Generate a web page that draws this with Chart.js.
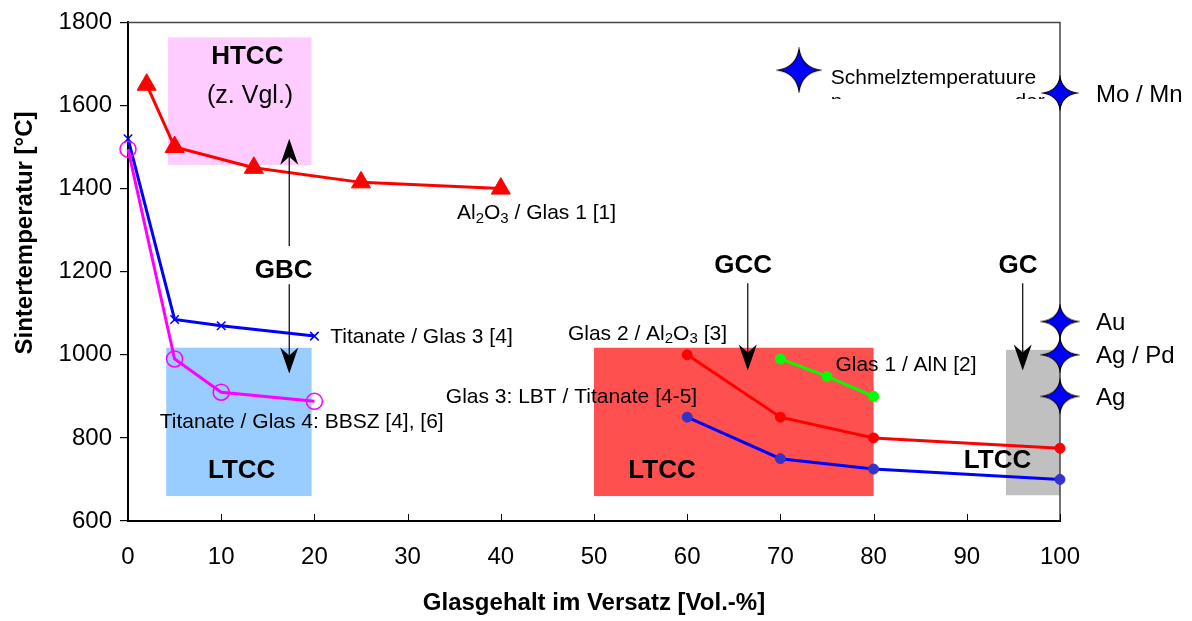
<!DOCTYPE html>
<html>
<head>
<meta charset="utf-8">
<script src="https://cdn.jsdelivr.net/npm/chart.js@4.4.1/dist/chart.umd.min.js"></script>
<style>
  html, body { margin: 0; padding: 0; background: #fff; }
</style>
</head>
<body>
<canvas id="myChart" width="1192" height="621"></canvas>
<script>
// ---- data ----
var xTicks = [0, 10, 20, 30, 40, 50, 60, 70, 80, 90, 100];
var yTicks = [600, 800, 1000, 1200, 1400, 1600, 1800];

var al2o3X = [2, 5, 13.5, 25, 40];
var al2o3Y = [1650, 1500, 1450, 1415, 1400];

var tit3X = [0, 5, 10, 20];
var tit3Y = [1520, 1085, 1070, 1045];

var tit4X = [0, 5, 10, 20];
var tit4Y = [1495, 990, 910, 888];

var glas2X = [60, 70, 80, 100];
var glas2Y = [1000, 850, 800, 775];

var glas3X = [60, 70, 80, 100];
var glas3Y = [850, 750, 725, 700];

var glas1X = [70, 75, 80];
var glas1Y = [990, 948, 900];

var metalNames = ["Mo / Mn", "Au", "Ag / Pd", "Ag"];
var metalX = [100, 100, 100, 100];
var metalY = [1630, 1080, 1000, 900];

var legendStarX = [72];
var legendStarY = [1685];

var FONT = "'Liberation Sans', Arial, sans-serif";

var toPoints = function (xs, ys) {
  var out = [];
  for (var i = 0; i < xs.length; i++) {
    out.push({ x: xs[i], y: ys[i] });
  }
  return out;
};

// four pointed star used as point style
var makeStar = function (w, h) {
  var c = document.createElement("canvas");
  c.width = w + 4;
  c.height = h + 4;
  var g = c.getContext("2d");
  var cx = c.width / 2, cy = c.height / 2;
  var a = w / 2, b = h / 2, k = 0.2;
  g.beginPath();
  g.moveTo(cx, cy - b);
  g.quadraticCurveTo(cx + a * k * 0.7, cy - b * k * 0.7, cx + a, cy);
  g.quadraticCurveTo(cx + a * k * 0.7, cy + b * k * 0.7, cx, cy + b);
  g.quadraticCurveTo(cx - a * k * 0.7, cy + b * k * 0.7, cx - a, cy);
  g.quadraticCurveTo(cx - a * k * 0.7, cy - b * k * 0.7, cx, cy - b);
  g.closePath();
  g.fillStyle = "#0000FF";
  g.fill();
  g.lineWidth = 1.2;
  g.strokeStyle = "#000";
  g.stroke();
  return c;
};

var metalStars = [makeStar(34, 32), makeStar(36, 32), makeStar(36, 32), makeStar(36, 32)];
var bigStar = makeStar(42, 42);

// ---- annotations (boxes, arrows, texts) in data units ----
var boxes = [
  { x0: 4.3, x1: 19.7, y0: 1457, y1: 1764, color: "#FFCCFF" },
  { x0: 4.1, x1: 19.7, y0: 660, y1: 1017, color: "#99CCFF" },
  { x0: 50, x1: 80, y0: 660, y1: 1017, color: "#FF5050" },
  { x0: 94.2, x1: 100, y0: 662, y1: 1012, color: "#C0C0C0" }
];

var arrows = [
  { x: 17.3, from: 1262, to: 1520 },
  { x: 17.3, from: 1170, to: 955 },
  { x: 66.5, from: 1172, to: 962 },
  { x: 96.0, from: 1172, to: 962 }
];

var labels = [
  { x: 12.8, y: 1716, parts: [["HTCC"]], size: 26, bold: true, align: "center" },
  { x: 13.1, y: 1622, parts: [["(z. Vgl.)"]], size: 25, align: "center" },
  { x: 16.7, y: 1201, parts: [["GBC"]], size: 26, bold: true, align: "center" },
  { x: 12.2, y: 720, parts: [["LTCC"]], size: 26, bold: true, align: "center" },
  { x: 57.3, y: 720, parts: [["LTCC"]], size: 26, bold: true, align: "center" },
  { x: 93.3, y: 744, parts: [["LTCC"]], size: 26, bold: true, align: "center" },
  { x: 66.0, y: 1213, parts: [["GCC"]], size: 26, bold: true, align: "center" },
  { x: 95.5, y: 1213, parts: [["GC"]], size: 26, bold: true, align: "center" },
  { x: 35.3, y: 1340, parts: [["Al"], ["2", 1], ["O"], ["3", 1], [" / Glas 1 [1]"]], size: 21 },
  { x: 21.7, y: 1043, parts: [["Titanate / Glas 3 [4]"]], size: 21 },
  { x: 3.4, y: 837, parts: [["Titanate / Glas 4: BBSZ [4], [6]"]], size: 21 },
  { x: 47.2, y: 1050, parts: [["Glas 2 / Al"], ["2", 1], ["O"], ["3", 1], [" [3]"]], size: 21 },
  { x: 34.1, y: 899, parts: [["Glas 3: LBT / Titanate [4-5]"]], size: 21 },
  { x: 75.9, y: 976, parts: [["Glas 1 / AlN [2]"]], size: 21 },
  { x: 75.4, y: 1666, parts: [["Schmelztemperatuure"]], size: 21 }
];

var setFont = function (ctx, size, bold) {
  ctx.font = (bold ? "bold " : "") + size + "px " + FONT;
};

var drawParts = function (ctx, item, px, py) {
  var total = 0, i;
  var widths = [];
  for (i = 0; i < item.parts.length; i++) {
    var p = item.parts[i];
    var s = p[1] ? Math.round(item.size * 0.7) : item.size;
    setFont(ctx, s, item.bold);
    widths.push(ctx.measureText(p[0]).width);
    total += widths[i];
  }
  var x = item.align === "center" ? px - total / 2 : px;
  ctx.textAlign = "left";
  ctx.textBaseline = "middle";
  ctx.fillStyle = "#000";
  for (i = 0; i < item.parts.length; i++) {
    var q = item.parts[i];
    var sz = q[1] ? Math.round(item.size * 0.7) : item.size;
    setFont(ctx, sz, item.bold);
    ctx.fillText(q[0], x, q[1] ? py + item.size * 0.25 : py);
    x += widths[i];
  }
};

var drawArrow = function (ctx, x, y0, y1) {
  var dir = y1 > y0 ? 1 : -1;
  ctx.strokeStyle = "#000";
  ctx.lineWidth = 1.2;
  ctx.beginPath();
  ctx.moveTo(x, y0);
  ctx.lineTo(x, y1 - dir * 18);
  ctx.stroke();
  ctx.fillStyle = "#000";
  ctx.beginPath();
  ctx.moveTo(x, y1);
  ctx.lineTo(x - 9, y1 - dir * 26);
  ctx.lineTo(x, y1 - dir * 18);
  ctx.lineTo(x + 9, y1 - dir * 26);
  ctx.closePath();
  ctx.fill();
};

var decorPlugin = {
  id: "decor",
  beforeDatasetsDraw: function (chart) {
    var ctx = chart.ctx, xs = chart.scales.x, ys = chart.scales.y, area = chart.chartArea;
    ctx.save();
    boxes.forEach(function (b) {
      var x1 = xs.getPixelForValue(b.x0), x2 = xs.getPixelForValue(b.x1);
      var y1 = ys.getPixelForValue(b.y1), y2 = ys.getPixelForValue(b.y0);
      ctx.fillStyle = b.color;
      ctx.fillRect(x1, y1, x2 - x1, y2 - y1);
    });
    // frame top / right
    ctx.strokeStyle = "#444";
    ctx.lineWidth = 1.5;
    ctx.beginPath();
    ctx.moveTo(area.left, area.top);
    ctx.lineTo(area.right, area.top);
    ctx.lineTo(area.right, area.bottom);
    ctx.stroke();
    // inward ticks on x axis
    ctx.strokeStyle = "#000";
    ctx.lineWidth = 1;
    xTicks.forEach(function (t) {
      if (t === 0) return;
      var px = Math.round(xs.getPixelForValue(t)) + 0.5;
      ctx.beginPath();
      ctx.moveTo(px, area.bottom);
      ctx.lineTo(px, area.bottom - 7);
      ctx.stroke();
    });
    ctx.restore();
  },
  afterDatasetsDraw: function (chart) {
    var ctx = chart.ctx, xs = chart.scales.x, ys = chart.scales.y;
    ctx.save();
    arrows.forEach(function (a) {
      drawArrow(ctx, xs.getPixelForValue(a.x), ys.getPixelForValue(a.from), ys.getPixelForValue(a.to));
    });
    labels.forEach(function (l) {
      drawParts(ctx, l, xs.getPixelForValue(l.x), ys.getPixelForValue(l.y));
    });
    // clipped second line of the melting temperature legend
    var lx = xs.getPixelForValue(75.4), ly = ys.getPixelForValue(1666) + 24;
    ctx.beginPath();
    ctx.rect(lx - 5, ly - 20, 240, 17);
    ctx.clip();
    setFont(ctx, 21, false);
    ctx.textBaseline = "middle";
    ctx.textAlign = "left";
    ctx.fillText("n", lx, ly);
    ctx.textAlign = "right";
    ctx.fillText("der", lx + 214, ly);
    ctx.restore();

    ctx.save();
    setFont(ctx, 24, false);
    ctx.textAlign = "left";
    ctx.textBaseline = "middle";
    ctx.fillStyle = "#000";
    for (var i = 0; i < metalNames.length; i++) {
      ctx.fillText(metalNames[i], xs.getPixelForValue(metalX[i]) + 36, ys.getPixelForValue(metalY[i]) + 2);
    }
    // y axis title
    ctx.translate(25, 233);
    ctx.rotate(-Math.PI / 2);
    setFont(ctx, 24, true);
    ctx.textAlign = "center";
    ctx.fillText("Sintertemperatur [°C]", 0, 0);
    ctx.restore();
  }
};

var lineSet = function (xs, ys, color, pointColor, style, radius, fill) {
  return {
    data: toPoints(xs, ys),
    borderColor: color,
    borderWidth: 3,
    pointStyle: style,
    pointRadius: radius,
    pointBackgroundColor: fill ? pointColor : "rgba(0,0,0,0)",
    pointBorderColor: pointColor,
    pointBorderWidth: fill ? 1 : 1.5,
    showLine: true,
    tension: 0,
    clip: false
  };
};

var ctx = document.getElementById("myChart");
var myChart = new Chart(ctx, {
  type: "scatter",
  data: {
    datasets: [
      lineSet(al2o3X, al2o3Y, "#FF0000", "#FF0000", "triangle", 11, true),
      lineSet(tit4X, tit4Y, "#FF00FF", "#FF00FF", "circle", 8, false),
      lineSet(tit3X, tit3Y, "#0000FF", "#0000FF", "crossRot", 6, false),
      lineSet(glas2X, glas2Y, "#FF0000", "#FF0000", "circle", 5, true),
      lineSet(glas3X, glas3Y, "#0000FF", "#3333CC", "circle", 5, true),
      lineSet(glas1X, glas1Y, "#00FF00", "#00FF00", "circle", 5, true),
      {
        data: toPoints(metalX, metalY),
        pointStyle: metalStars,
        pointRadius: 16,
        showLine: false,
        clip: false
      },
      {
        data: toPoints(legendStarX, legendStarY),
        pointStyle: bigStar,
        pointRadius: 20,
        showLine: false,
        clip: false
      }
    ]
  },
  options: {
    responsive: false,
    animation: false,
    devicePixelRatio: 1,
    layout: { padding: { top: 20, right: 132, left: 0, bottom: 0 } },
    plugins: {
      legend: { display: false },
      tooltip: { enabled: false }
    },
    scales: {
      x: {
        type: "linear",
        min: 0,
        max: 100,
        afterFit: function (s) { s.height = 100; },
        afterBuildTicks: function (s) { s.ticks = xTicks.map(function (v) { return { value: v }; }); },
        grid: { drawOnChartArea: false, drawTicks: false },
        border: { color: "#000", width: 2 },
        ticks: {
          color: "#000",
          padding: 22,
          font: { family: FONT, size: 24 },
          callback: function (v) { return String(v); }
        },
        title: {
          display: true,
          text: "Glasgehalt im Versatz [Vol.-%]",
          color: "#000",
          font: { family: FONT, size: 24, weight: "bold" },
          padding: { top: 0, bottom: 3 }
        }
      },
      y: {
        type: "linear",
        min: 600,
        max: 1800,
        afterFit: function (s) { s.width = 128; },
        afterBuildTicks: function (s) { s.ticks = yTicks.map(function (v) { return { value: v }; }); },
        grid: { drawOnChartArea: false, drawTicks: true, tickLength: 8, color: "#000", lineWidth: 1.2 },
        border: { color: "#000", width: 2 },
        ticks: {
          color: "#000",
          padding: 8,
          font: { family: FONT, size: 24 },
          callback: function (v) { return String(v); }
        }
      }
    }
  },
  plugins: [decorPlugin]
});
</script>
</body>
</html>
